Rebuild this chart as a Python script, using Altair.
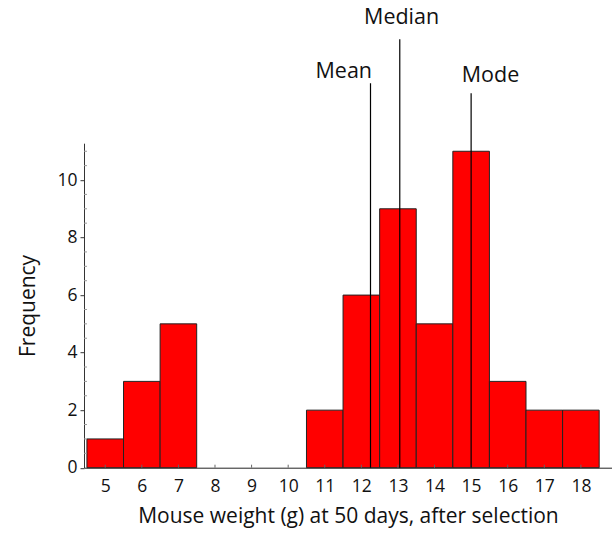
import altair as alt
import pandas as pd

# ---- data ----
weights = [5, 6, 7, 8, 9, 10, 11, 12, 13, 14, 15, 16, 17, 18]
freq = [1, 3, 5, 0, 0, 0, 2, 6, 9, 5, 11, 3, 2, 2]

stat_names = ["Mean", "Median", "Mode"]
stat_values = [12.25, 13.05, 15.0]
stat_tops = [13.36, 14.89, 13.02]
label_x = [11.52, 13.1, 15.53]
label_y = [13.55, 15.42, 13.41]

y_tick_values = [0, 2, 4, 6, 8, 10]
y_minor_ticks = [i * 0.5 for i in range(1, 23) if (i * 0.5) % 2 != 0]
x_tick_values = weights

X_DOMAIN = [4.42, 18.85]
Y_DOMAIN = [0, 11.28]
W, H = 528, 324.5
FONT = "Open Sans"

bars = pd.DataFrame({
    "weight": weights,
    "lo": [w - 0.5 for w in weights],
    "hi": [w + 0.5 for w in weights],
    "freq": freq,
    "zero": [0] * len(weights),
})
bars = bars[bars["freq"] > 0]

stats = pd.DataFrame({
    "name": stat_names, "x": stat_values, "top": stat_tops,
    "lx": label_x, "ly": label_y, "zero": [0] * len(stat_names),
})

xscale = alt.Scale(domain=X_DOMAIN, nice=False, zero=False)
yscale = alt.Scale(domain=Y_DOMAIN, nice=False)

base_bars = alt.Chart(bars).mark_bar(
    color="#ff0000", stroke="#222222", strokeWidth=1
).encode(
    x=alt.X("lo:Q", scale=xscale, title="Mouse weight (g) at 50 days, after selection",
            axis=alt.Axis(values=x_tick_values, tickSize=0, labelPadding=10,
                          labelFontSize=17.5, titleFontSize=21, titlePadding=10,
                          grid=False, domainColor="#222222", labelColor="#111111",
                          titleColor="#111111", titleFontWeight="normal",
                          labelFont=FONT, titleFont=FONT)),
    x2="hi:Q",
    y=alt.Y("freq:Q", scale=yscale, title="Frequency",
            axis=alt.Axis(values=y_tick_values, tickSize=4, labelPadding=3,
                          labelFontSize=17.5, titleFontSize=21, titlePadding=18,
                          grid=False, domainColor="#333333", tickColor="#333333",
                          labelColor="#111111", titleColor="#111111",
                          titleFontWeight="normal", labelFont=FONT, titleFont=FONT)),
    y2="zero:Q",
)

xticks = alt.Chart(pd.DataFrame({"t": x_tick_values})).mark_rule(
    color="#666666", strokeWidth=1
).encode(
    x=alt.X("t:Q", scale=xscale),
    y=alt.value(H),
    y2=alt.value(H - 3),
)

yticks = alt.Chart(pd.DataFrame({"t": y_minor_ticks})).mark_rule(
    color="#999999", strokeWidth=1
).encode(
    y=alt.Y("t:Q", scale=yscale),
    x=alt.value(0),
    x2=alt.value(3),
)

lines = alt.Chart(stats).mark_rule(color="#000000", strokeWidth=1.2).encode(
    x=alt.X("x:Q", scale=xscale),
    y=alt.Y("zero:Q", scale=yscale),
    y2="top:Q",
)

labels = alt.Chart(stats).mark_text(
    font=FONT, fontSize=21.5, color="#111111", baseline="alphabetic", align="center"
).encode(
    x=alt.X("lx:Q", scale=xscale),
    y=alt.Y("ly:Q", scale=yscale),
    text="name:N",
)

chart = alt.layer(base_bars, xticks, yticks, lines, labels).properties(
    width=W, height=H,
    background="white",
    autosize=alt.AutoSizeParams(type="none"),
    padding={"left": 84, "top": 143.2, "right": 0, "bottom": 67},
).configure_view(strokeWidth=0, stroke="transparent").configure_axis(grid=False)

chart.save("out.html", embed_options={"renderer": "svg", "actions": False})
